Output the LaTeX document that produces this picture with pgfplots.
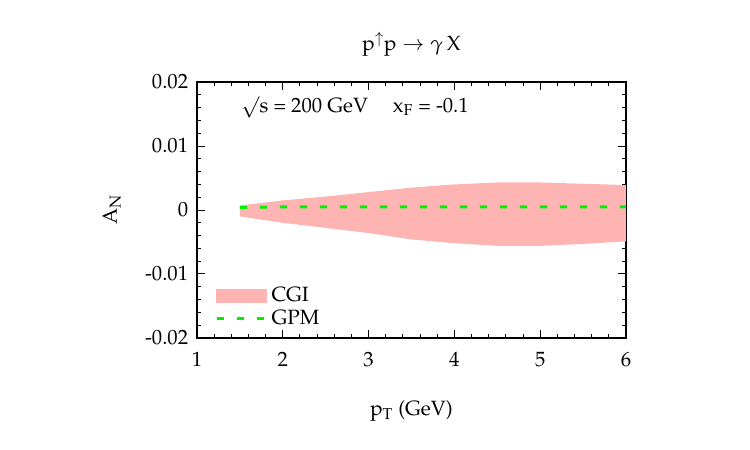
\documentclass[border=0pt]{standalone}
\usepackage[T1]{fontenc}
\usepackage{mathpazo}
\usepackage{pgfplots}
\pgfplotsset{compat=1.18}
\definecolor{bandpink}{RGB}{255,180,180}
\definecolor{gpmgreen}{RGB}{0,240,0}
\pgfplotsset{
  bandlegend/.style={legend image code/.code={\fill[bandpink] (0pt,-4pt) rectangle (30pt,4pt);}},
  linelegend/.style={legend image code/.code={\draw[##1] (0pt,0pt) -- (30pt,0pt);}},
}
\begin{document}
\fontsize{12.4pt}{15pt}\selectfont
\begin{tikzpicture}
\path[use as bounding box] (0pt,0pt) rectangle (450pt,270pt);
\begin{axis}[
  at={(118.2pt,67.2pt)}, anchor=south west,
  scale only axis, width=257.4pt, height=153.6pt,
  xmin=1, xmax=6, ymin=-0.02, ymax=0.02,
  xtick={1,2,3,4,5,6},
  ytick={-0.02,-0.01,0,0.01,0.02},
  yticklabels={-0.02,-0.01,0,0.01,0.02},
  minor x tick num=4, minor y tick num=4,
  tick align=inside, xtick pos=both, ytick pos=both,
  major tick length=5pt, minor tick length=2.6pt,
  axis line style={line width=0.9pt}, every tick/.style={line width=0.6pt, black},
  scaled y ticks=false,
  xticklabel style={yshift=-4pt},
  yticklabel style={xshift=-1pt},
  xlabel={p$_{\mathrm{T}}$ (GeV)},
  ylabel={A$_{\mathrm{N}}$},
  xlabel style={yshift=-12pt},
  ylabel style={yshift=6pt},
  title={$\mathrm{p}^{\uparrow}\mathrm{p}\rightarrow\gamma\,\mathrm{X}$},
  title style={yshift=5pt},
  legend style={at={(axis cs:1.15,-0.011)}, anchor=north west, draw=none, fill=none,
    row sep=-1pt},
  legend cell align=left,
]
\addlegendimage{bandlegend}
\addlegendentry{CGI}
\addlegendimage{gpmgreen, line width=1.8pt, dash pattern=on 4.4pt off 7.6pt, linelegend}
\addlegendentry{GPM}
\addplot[fill=bandpink, draw=none, forget plot] coordinates {
 (1.5,0.0007) (1.75,0.0011) (2,0.0015) (2.5,0.0021) (3,0.0028) (3.5,0.0035)
 (4,0.0040) (4.5,0.0043) (5,0.0043) (5.5,0.0041) (6,0.0039)
 (6,-0.0049) (5.5,-0.0053) (5,-0.0056) (4.5,-0.0056) (4,-0.0052) (3.5,-0.0046)
 (3,-0.0036) (2.5,-0.0028) (2,-0.0020) (1.75,-0.0015) (1.5,-0.0010)} -- cycle;
\addplot[gpmgreen, line width=1.8pt, dash pattern=on 4.4pt off 7.6pt, forget plot] coordinates {
 (1.5,0.0004) (2,0.0005) (2.5,0.0005) (3,0.0005) (3.5,0.0005) (4,0.0005)
 (4.5,0.0005) (5,0.0005) (5.5,0.0005) (6,0.0005)};
\node[anchor=west] at (axis cs:1.43,0.0161) {$\surd$s = 200 GeV\hspace{15pt}x$_{\mathrm{F}}$ = -0.1};
\end{axis}
\end{tikzpicture}
\end{document}
